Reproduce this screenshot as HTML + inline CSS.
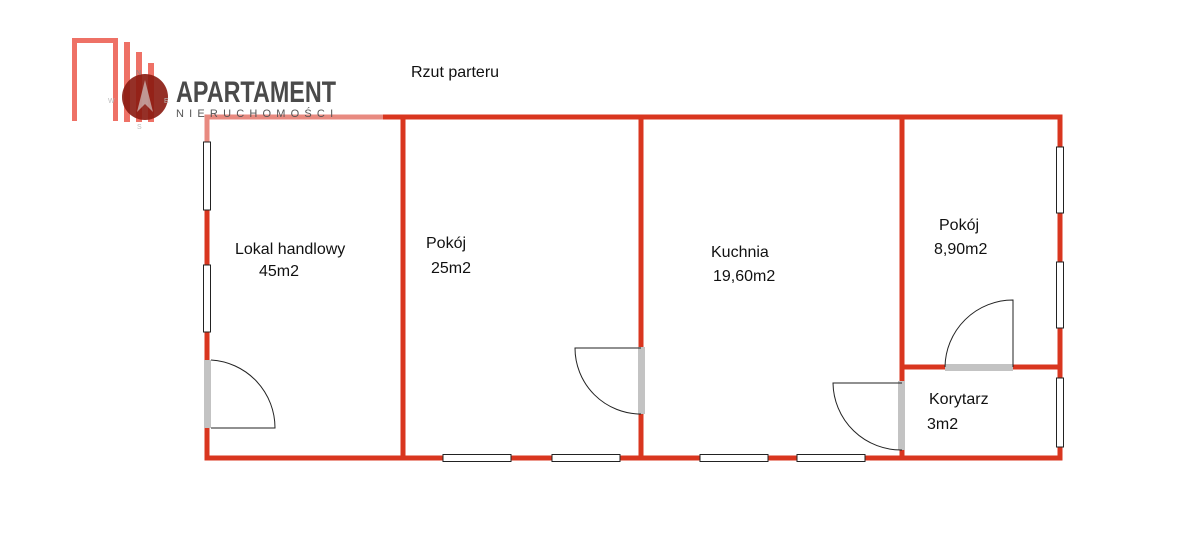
<!DOCTYPE html>
<html><head><meta charset="utf-8"><style>html,body{margin:0;padding:0;background:#fff;width:1200px;height:543px;overflow:hidden}</style></head>
<body>
<svg width="1200" height="543" viewBox="0 0 1200 543" xmlns="http://www.w3.org/2000/svg" font-family="Liberation Sans, sans-serif">
<g stroke="#d9361f" stroke-width="5" fill="none" stroke-linecap="square">
<line x1="383" y1="117" x2="1060" y2="117"/>
<line x1="207" y1="458" x2="1060" y2="458"/>
<line x1="1060" y1="117" x2="1060" y2="458"/>
<line x1="207" y1="142" x2="207" y2="458"/>
<line x1="403" y1="117" x2="403" y2="458"/>
<line x1="641" y1="117" x2="641" y2="458"/>
<line x1="902" y1="117" x2="902" y2="458"/>
<line x1="902" y1="367" x2="1060" y2="367"/>
</g>
<path d="M207 142 V117 H383" stroke="#e88a80" stroke-width="5" fill="none"/>
<g fill="#fff" stroke="#222" stroke-width="1">
<rect x="203.5" y="142" width="7" height="68"/><rect x="203.5" y="265" width="7" height="67"/>
<rect x="443" y="454.5" width="68" height="7"/><rect x="552" y="454.5" width="68" height="7"/>
<rect x="700" y="454.5" width="68" height="7"/><rect x="797" y="454.5" width="68" height="7"/>
<rect x="1056.5" y="147" width="7" height="66"/><rect x="1056.5" y="262" width="7" height="66"/><rect x="1056.5" y="378" width="7" height="69"/>
</g>
<g fill="#c3c3c3">
<rect x="204" y="360" width="7" height="68"/>
<rect x="638" y="347" width="7" height="67"/>
<rect x="898" y="381" width="7" height="69"/>
<rect x="945" y="364" width="68" height="7"/>
</g>
<g stroke="#222" stroke-width="1" fill="none">
<path d="M211 428 H275 A68 68 0 0 0 211 360"/>
<path d="M641 348 H575 A66 66 0 0 0 641 414"/>
<path d="M902 383 H833 A68 68 0 0 0 902 450"/>
<path d="M1013 367 V300 A68 68 0 0 0 945 367"/>
</g>
<g font-size="16" fill="#111">
<text x="411" y="77">Rzut parteru</text>
<text x="235" y="254">Lokal handlowy</text><text x="259" y="276">45m2</text>
<text x="426" y="248">Pokój</text><text x="431" y="273">25m2</text>
<text x="711" y="257">Kuchnia</text><text x="713" y="281">19,60m2</text>
<text x="939" y="230">Pokój</text><text x="934" y="254">8,90m2</text>
<text x="929" y="404">Korytarz</text><text x="927" y="429">3m2</text>
</g>
<g fill="#ee6a5e" opacity="0.95">
<path d="M72 38 H118 V121 H113 V43 H77 V121 H72Z"/>
<rect x="124" y="42" width="6" height="80"/>
<rect x="136" y="52" width="6" height="70"/>
<rect x="148" y="63" width="6" height="59"/>
</g>
<circle cx="145" cy="97" r="23" fill="#8a1a10" opacity="0.9"/>
<path d="M145 80 L137 112 L145 104 L153 112Z" fill="#ddd" opacity="0.6"/>
<text x="176" y="102" font-size="30" font-weight="bold" fill="#4a4a4a" textLength="160" lengthAdjust="spacingAndGlyphs" font-family="Liberation Sans Narrow, Liberation Sans, sans-serif">APARTAMENT</text>
<text x="176" y="117" font-size="11" fill="#555" letter-spacing="5.2">NIERUCHOMOŚCI</text>
<text x="108" y="103" font-size="7" fill="#bbb">W</text>
<text x="136" y="75" font-size="7" fill="#888">N</text>
<text x="164" y="103" font-size="7" fill="#bbb">E</text>
<text x="137" y="129" font-size="7" fill="#bbb">S</text>
</svg>
</body></html>
